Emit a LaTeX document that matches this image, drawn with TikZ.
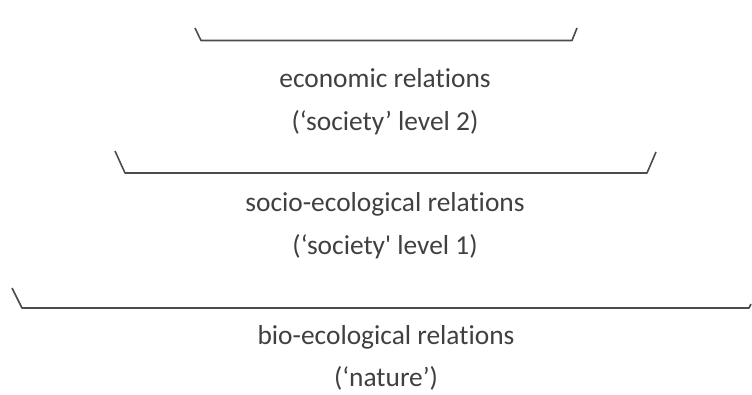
\documentclass[tikz,border=0pt]{standalone}
\usepackage{fontspec}
\newfontfamily\calfont[Ligatures=NoCommon]{Carlito}
\begin{document}
\begin{tikzpicture}[x=1pt,y=-1pt,
  lbl/.style={text=black!75, font=\calfont\fontsize{27.4}{32}\selectfont, inner sep=0pt, anchor=base},
  brk/.style={draw=black!70, line width=1.6pt, line join=round}]
\useasboundingbox (0,0) rectangle (752,394);
% brackets
\coordinate (a1) at (195,28); \coordinate (a2) at (201,40.5);
\coordinate (a3) at (572,40.5); \coordinate (a4) at (577,28);
\draw[brk] (a1) -- (a2) -- (a3) -- (a4);
\coordinate (b1) at (115,151); \coordinate (b2) at (125,173);
\coordinate (b3) at (647,173); \coordinate (b4) at (656,152);
\draw[brk] (b1) -- (b2) -- (b3) -- (b4);
\coordinate (c1) at (12,288); \coordinate (c2) at (22,308);
\coordinate (c3) at (749,308); \coordinate (c4) at (751,304);
\draw[brk] (c1) -- (c2) -- (c3) -- (c4);
% labels
\node[lbl] (t1) at (385,87) {economic relations};
\node[lbl] (t2) at (385,130) {(‘society’ level 2)};
\node[lbl] (t3) at (385,211) {socio-ecological relations};
\node[lbl] (t4) at (385,254) {(‘society' level 1)};
\node[lbl] (t5) at (386,344) {bio-ecological relations};
\node[lbl] (t6) at (386,386) {(‘nature’)};
\end{tikzpicture}
\end{document}
